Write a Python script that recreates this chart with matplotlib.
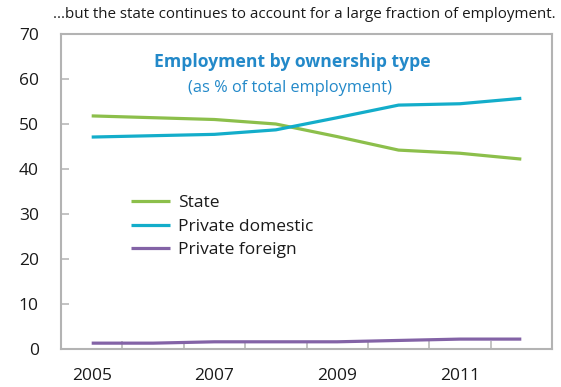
import matplotlib
matplotlib.use("Agg")
import matplotlib.pyplot as plt

years = [2005, 2006, 2007, 2008, 2009, 2010, 2011, 2012]
state = [51.8, 51.4, 51.0, 50.0, 47.2, 44.2, 43.5, 42.2]
private_domestic = [47.1, 47.4, 47.7, 48.7, 51.4, 54.2, 54.5, 55.7]
private_foreign = [1.3, 1.3, 1.6, 1.6, 1.6, 1.9, 2.2, 2.2]
series_names = ["State", "Private domestic", "Private foreign"]
series_colors = ["#8cbf4b", "#13adca", "#8363a6"]
year_labels = ["2005", "", "2007", "", "2009", "", "2011", ""]
y_ticks = [0, 10, 20, 30, 40, 50, 60, 70]

plt.rcParams["font.family"] = ["Open Sans", "DejaVu Sans"]

W, H = 561, 387
fig = plt.figure(figsize=(W / 100, H / 100), dpi=100)
left, right, top, bottom = 61, 552, 34, 349
ax = fig.add_axes([left / W, 1 - bottom / H, (right - left) / W, (bottom - top) / H])

x = list(range(len(years)))
for vals, name, col in zip([state, private_domestic, private_foreign], series_names, series_colors):
    ax.plot(x, vals, color=col, lw=2.3, label=name, solid_capstyle="butt")

ax.set_xlim(-0.5, len(years) - 0.5)
ax.set_ylim(0, 70)
ax.set_yticks(y_ticks)
ax.set_yticklabels([str(v) for v in y_ticks], fontsize=12.5, color="#1a1a1a")

# category axis: tick marks on category boundaries, labels on centres
ax.set_xticks([i + 0.5 for i in x[:-1]])
ax.set_xticklabels([])
ax.set_xticks(x, minor=True)
ax.set_xticklabels(year_labels, minor=True, fontsize=12.5, color="#1a1a1a")
ax.tick_params(axis="x", which="major", direction="in", length=6, width=1.1, color="#b3b3b3")
ax.tick_params(axis="x", which="minor", length=0, pad=14)
ax.tick_params(axis="y", direction="in", length=6, width=1.1, color="#b3b3b3", pad=16)

for s in ax.spines.values():
    s.set_color("#b3b3b3")
    s.set_linewidth(1.5)

fig.text(292 / W, 1 - 62 / H, "Employment by ownership type", ha="center", va="center",
         fontsize=12.6, fontweight="bold", color="#2389c9")
fig.text(290 / W, 1 - 88 / H, "(as % of total employment)", ha="center", va="center",
         fontsize=11.8, color="#2389c9")
fig.text(556 / W, 1 - 15 / H, "...but the state continues to account for a large fraction of employment.",
         ha="right", va="center", fontsize=10.9, color="#1a1a1a")

leg = ax.legend(loc="upper left", bbox_to_anchor=(131 / W, 1 - 195 / H), bbox_transform=fig.transFigure,
                frameon=False, fontsize=12.5, handlelength=2.25, handletextpad=0.45,
                labelspacing=0.42, borderaxespad=0, borderpad=0)
for t in leg.get_texts():
    t.set_color("#1a1a1a")

fig.savefig("out.png", dpi=100)
